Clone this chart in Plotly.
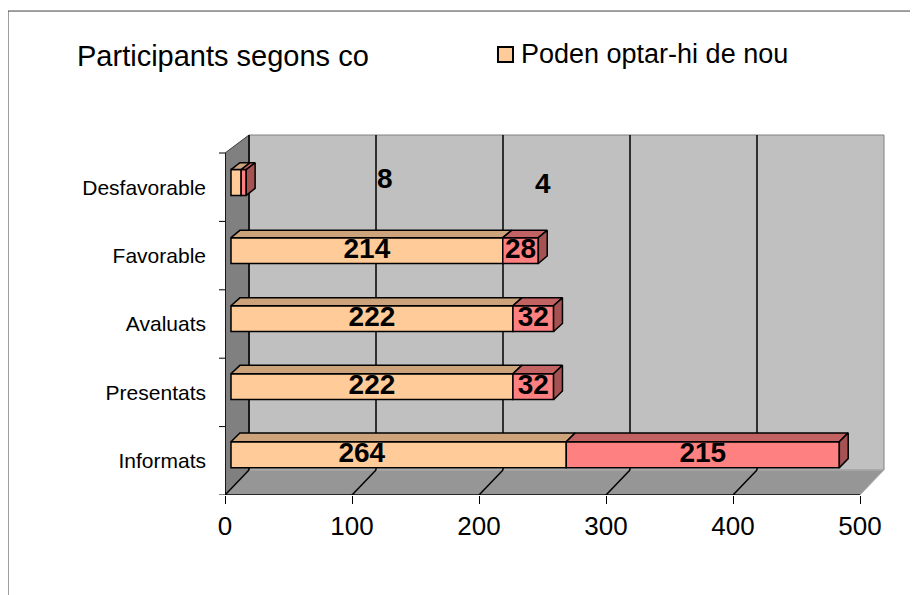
import plotly.graph_objects as go

categories = ["Informats", "Presentats", "Avaluats", "Favorable", "Desfavorable"]
poden_optar = [264, 222, 222, 214, 8]
no_poden = [215, 32, 32, 28, 4]
x_ticks = [0, 100, 200, 300, 400, 500]

FONT = "Liberation Sans, Arial, sans-serif"

# fake 3D box, everything in data units
PX_X = 1.27          # pixels per unit on x
PX_Y = 68.4          # pixels per category
DX = 24 / PX_X
DY_BOT = 25 / PX_Y
DY_TOP = 18 / PX_Y
D_FRONT, D_BACK = 0.25, 0.62
BAR_H = 26 / PX_Y
X_MAX = x_ticks[-1]
Y_LO, Y_HI = -0.5, len(categories) - 0.5


def proj(x, y, d):
    dy = DY_BOT + (y - Y_LO) / (Y_HI - Y_LO) * (DY_TOP - DY_BOT)
    return x + d * DX, y + d * dy


def path(points):
    return "M " + " L ".join(f"{x},{y}" for x, y in points) + " Z"


def poly_trace(polys, color):
    xs, ys = [], []
    for p in polys:
        for x, y in p + [p[0]]:
            xs.append(x)
            ys.append(y)
        xs.append(None)
        ys.append(None)
    return go.Scatter(x=xs, y=ys, mode="lines", fill="toself", fillcolor=color,
                      line=dict(color="black", width=1.5), hoverinfo="skip",
                      showlegend=False)


fig = go.Figure()

# front faces of the bars
centers, heights, base1, base2 = [], [], [], []
for i in range(len(categories)):
    _, yb = proj(0, i - BAR_H / 2, D_FRONT)
    _, yt = proj(0, i + BAR_H / 2, D_FRONT)
    centers.append((yb + yt) / 2)
    heights.append(yt - yb)
    base1.append(D_FRONT * DX)
    base2.append(D_FRONT * DX + poden_optar[i])

fig.add_trace(go.Bar(y=centers, x=poden_optar, base=base1, width=heights, orientation="h",
                     name="Poden optar-hi de nou", marker=dict(color="#FFCC99", line=dict(color="black", width=1.5)),
                     showlegend=False))
fig.add_trace(go.Bar(y=centers, x=no_poden, base=base2, width=heights, orientation="h",
                     name="No poden optar-hi", marker=dict(color="#FF8080", line=dict(color="black", width=1.5)),
                     showlegend=False))

# top and side faces
top1, top2, side2 = [], [], []
for i in range(len(categories)):
    yt = i + BAR_H / 2
    yb = i - BAR_H / 2
    a, b = poden_optar[i], poden_optar[i] + no_poden[i]
    top1.append([proj(0, yt, D_FRONT), proj(a, yt, D_FRONT), proj(a, yt, D_BACK), proj(0, yt, D_BACK)])
    top2.append([proj(a, yt, D_FRONT), proj(b, yt, D_FRONT), proj(b, yt, D_BACK), proj(a, yt, D_BACK)])
    side2.append([proj(b, yb, D_FRONT), proj(b, yt, D_FRONT), proj(b, yt, D_BACK), proj(b, yb, D_BACK)])
fig.add_trace(poly_trace(top1, "#CCA37A"))
fig.add_trace(poly_trace(top2, "#C26262"))
fig.add_trace(poly_trace(side2, "#A65252"))

# value labels on the front faces (Desfavorable labels float off, see annotations)
label_shift = {(0, 0): -29}   # Excel put the "264" left of centre
lx, ly, lt = [], [], []
for i in range(len(categories) - 1):
    lx += [D_FRONT * DX + poden_optar[i] / 2 + label_shift.get((i, 0), 0),
           D_FRONT * DX + poden_optar[i] + no_poden[i] / 2 + label_shift.get((i, 1), 0)]
    ly += [centers[i], centers[i]]
    lt += [str(poden_optar[i]), str(no_poden[i])]
fig.add_trace(go.Scatter(x=lx, y=ly, text=lt, mode="text", hoverinfo="skip", showlegend=False,
                         textfont=dict(family=FONT, size=28, color="black", weight="bold")))

shapes = []
# walls and floor
shapes.append(dict(type="path", layer="below", xref="x", yref="y", fillcolor="#C0C0C0",
                   line=dict(color="#808080", width=1),
                   path=path([proj(0, Y_LO, 1), proj(X_MAX, Y_LO, 1), proj(X_MAX, Y_HI, 1), proj(0, Y_HI, 1)])))
shapes.append(dict(type="path", layer="below", xref="x", yref="y", fillcolor="#808080",
                   line=dict(color="#404040", width=1),
                   path=path([proj(0, Y_LO, 0), proj(0, Y_LO, 1), proj(0, Y_HI, 1), proj(0, Y_HI, 0)])))
shapes.append(dict(type="path", layer="below", xref="x", yref="y", fillcolor="#969696",
                   line=dict(color="#B0B0B0", width=1),
                   path=path([proj(0, Y_LO, 0), proj(X_MAX, Y_LO, 0), proj(X_MAX, Y_LO, 1), proj(0, Y_LO, 1)])))
# gridlines on the back wall and the floor
for t in x_ticks[:-1]:
    x0, y0 = proj(t, Y_LO, 1)
    x1, y1 = proj(t, Y_HI, 1)
    shapes.append(dict(type="line", layer="below", xref="x", yref="y", x0=x0, y0=y0, x1=x1, y1=y1,
                       line=dict(color="black", width=1.5)))
    fx, fy = proj(t, Y_LO, 0)
    shapes.append(dict(type="line", layer="below", xref="x", yref="y", x0=fx, y0=fy, x1=x0, y1=y0,
                       line=dict(color="black", width=1.5)))
# front axes
shapes.append(dict(type="line", layer="below", xref="x", yref="y", x0=0, y0=Y_LO, x1=X_MAX, y1=Y_LO,
                   line=dict(color="black", width=1.5)))
shapes.append(dict(type="line", layer="below", xref="x", yref="y", x0=0, y0=Y_LO, x1=0, y1=Y_HI,
                   line=dict(color="black", width=1.5)))
for k in range(len(categories) + 1):
    shapes.append(dict(type="line", xref="paper", yref="y", x0=-0.009, x1=0, y0=Y_LO + k, y1=Y_LO + k,
                       line=dict(color="black", width=1)))
# chart frame
shapes.append(dict(type="rect", xref="paper", yref="paper", x0=-0.3263, x1=1.2, y0=-0.5, y1=1.308,
                   line=dict(color="#404040", width=1)))
# legend swatch
shapes.append(dict(type="rect", xref="paper", yref="paper", x0=0.4105, x1=0.4331, y0=1.1703, y1=1.2108,
                   fillcolor="#FFCC99", line=dict(color="black", width=2)))

annotations = [
    dict(text="Participants segons co", xref="paper", yref="paper", x=-0.2256, y=1.1865,
         xanchor="left", yanchor="middle", showarrow=False, font=dict(family=FONT, size=29, color="black")),
    dict(text="Poden optar-hi de nou", xref="paper", yref="paper", x=0.4421, y=1.1919,
         xanchor="left", yanchor="middle", showarrow=False, font=dict(family=FONT, size=27, color="black")),
    dict(text=str(poden_optar[4]), xref="x", yref="y", x=126, y=4.13, showarrow=False,
         font=dict(family=FONT, size=28, color="black", weight="bold")),
    dict(text=str(no_poden[4]), xref="x", yref="y", x=250, y=4.06, showarrow=False,
         font=dict(family=FONT, size=28, color="black", weight="bold")),
]

# page has an 8px body margin, so plot area sits at page x 225..890, y 125..495
fig.update_layout(
    width=918, height=595,
    margin=dict(l=217, r=36, t=117, b=108),
    paper_bgcolor="white", plot_bgcolor="rgba(0,0,0,0)",
    barmode="overlay",
    shapes=shapes, annotations=annotations,
    xaxis=dict(range=[0, (890 - 225) / PX_X], tickvals=x_ticks, showgrid=False, zeroline=False,
               showline=False, ticks="outside", ticklen=8, tickcolor="black", tickwidth=1,
               tickfont=dict(family=FONT, size=26, color="black")),
    yaxis=dict(range=[Y_LO, Y_LO + 370 / PX_Y], tickvals=list(range(len(categories))), ticktext=categories,
               showgrid=False, zeroline=False, showline=False, ticks="",
               ticklabelstandoff=18, tickfont=dict(family=FONT, size=21, color="black")),
)

fig.write_html("out.html")
